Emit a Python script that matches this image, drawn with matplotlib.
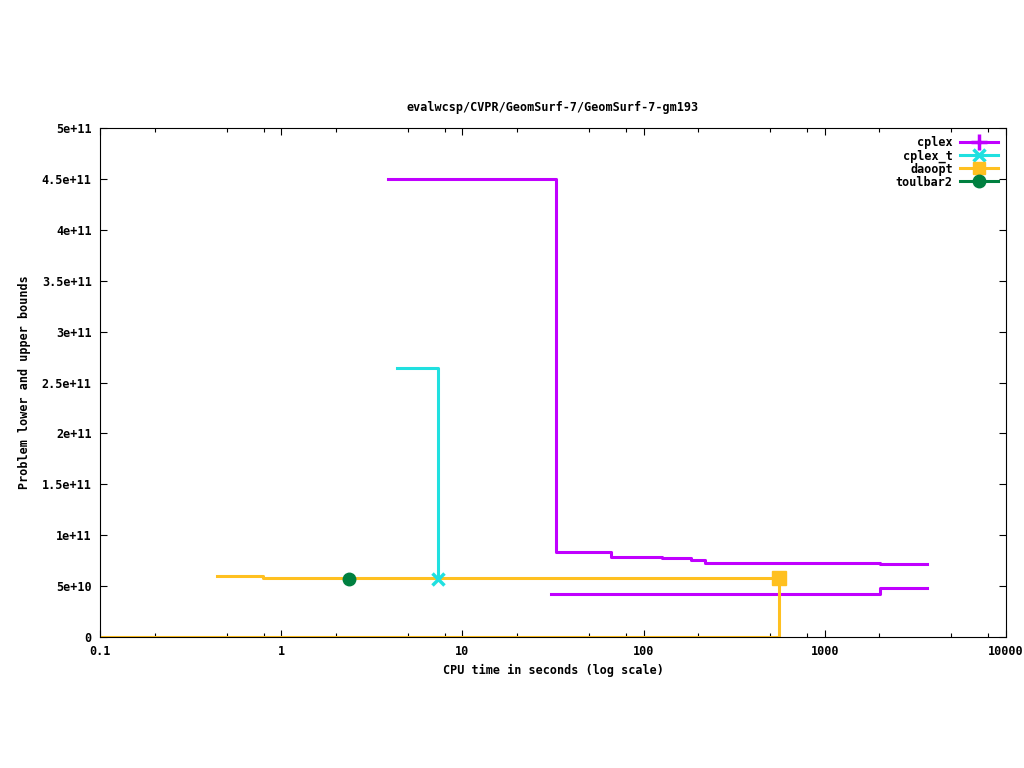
import matplotlib
matplotlib.use("Agg")
import matplotlib.pyplot as plt
from matplotlib.lines import Line2D
from matplotlib.ticker import FuncFormatter, FixedLocator

# data (time [s], bound)
cplex_ub_t = [3.88, 32.9, 66, 126, 183, 218, 2018, 3650]
cplex_ub_v = [4.5e11, 0.835e11, 0.786e11, 0.773e11, 0.753e11, 0.724e11, 0.714e11, 0.714e11]
cplex_lb_t = [31, 2018, 3650]
cplex_lb_v = [0.422e11, 0.478e11, 0.478e11]

cplex_t_ub_t = [4.36, 7.33]
cplex_t_ub_v = [2.64e11, 0.57e11]

daoopt_ub_t = [0.44, 0.79, 560]
daoopt_ub_v = [0.60e11, 0.577e11, 0.577e11]
daoopt_lb_t = [0.1, 560]
daoopt_lb_v = [0, 0.577e11]

toulbar2_t = [2.37]
toulbar2_v = [0.57e11]

colors = {"cplex": "#c000ff", "cplex_t": "#20e0e0", "daoopt": "#ffc020", "toulbar2": "#008040"}
markers = {"cplex": "+", "cplex_t": "x", "daoopt": "s", "toulbar2": "o"}
font = "DejaVu Sans Mono"
fs = 8.5

fig = plt.figure(figsize=(10.24, 7.68), dpi=100)
ax = fig.add_axes([100 / 1024, 1 - 637 / 768, 906 / 1024, 509 / 768])
lw = 2.2

ax.plot(cplex_ub_t, cplex_ub_v, drawstyle="steps-post", color=colors["cplex"], lw=lw)
ax.plot(cplex_lb_t, cplex_lb_v, drawstyle="steps-post", color=colors["cplex"], lw=lw)
ax.plot(cplex_t_ub_t, cplex_t_ub_v, drawstyle="steps-post", color=colors["cplex_t"], lw=lw)
ax.plot(daoopt_ub_t, daoopt_ub_v, drawstyle="steps-post", color=colors["daoopt"], lw=lw)
ax.plot(daoopt_lb_t, daoopt_lb_v, drawstyle="steps-post", color=colors["daoopt"], lw=lw)

# end-point markers
ax.plot(cplex_t_ub_t[-1], cplex_t_ub_v[-1], marker="x", color=colors["cplex_t"], ms=9, mew=2.5, ls="none")
ax.plot(daoopt_ub_t[-1], daoopt_ub_v[-1], marker="s", color=colors["daoopt"], ms=10, ls="none")
ax.plot(toulbar2_t, toulbar2_v, marker="o", color=colors["toulbar2"], ms=9, ls="none")

ax.set_xscale("log")
ax.set_xlim(0.1, 10000)
ax.set_ylim(0, 5e11)
ax.set_yticks([i * 5e10 for i in range(11)])
ax.yaxis.set_major_formatter(FuncFormatter(lambda v, p: "%g" % v))
ax.xaxis.set_major_formatter(FuncFormatter(lambda v, p: "%g" % v))
minor = [m * 10.0 ** e for e in range(-1, 4) for m in (2, 5, 8)]
ax.xaxis.set_minor_locator(FixedLocator(minor))
ax.xaxis.set_minor_formatter(FuncFormatter(lambda v, p: ""))

ax.tick_params(which="both", direction="in", top=True, right=True, labelsize=fs, width=0.8)
ax.tick_params(which="major", length=5, pad=6)
ax.tick_params(which="minor", length=3)
for lab in ax.get_xticklabels() + ax.get_yticklabels():
    lab.set_fontfamily(font)
    lab.set_fontweight("bold")

ax.set_title("evalwcsp/CVPR/GeomSurf-7/GeomSurf-7-gm193", fontsize=fs, fontfamily=font,
             fontweight="bold", pad=12)
ax.set_xlabel("CPU time in seconds (log scale)", fontsize=fs, fontfamily=font, fontweight="bold", labelpad=4)
ax.set_ylabel("Problem lower and upper bounds", fontsize=fs, fontfamily=font, fontweight="bold", labelpad=8)

handles = [Line2D([], [], color=colors[k], lw=lw, marker=markers[k], ms=9 if k != "cplex" else 12,
                  mew=2.5 if k in ("cplex", "cplex_t") else 1) for k in colors]
ax.legend(handles, list(colors), loc="upper right", markerfirst=False, frameon=False,
          handlelength=3.2, labelspacing=0.0, borderaxespad=0.3, handletextpad=0.6,
          prop={"family": font, "weight": "bold", "size": fs})

fig.savefig("out.png", dpi=100)
